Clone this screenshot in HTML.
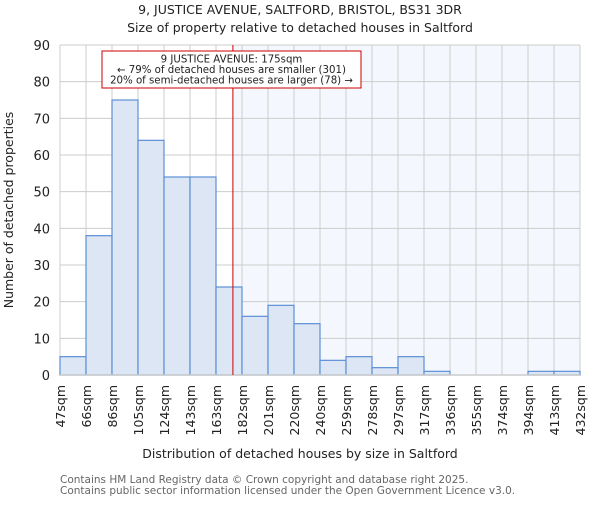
<!DOCTYPE html>
<html><head><meta charset="utf-8"><style>
body{margin:0;background:#fff}
svg{font-family:"DejaVu Sans","Liberation Sans",sans-serif}
</style></head><body>
<svg width="600" height="500" xmlns="http://www.w3.org/2000/svg" id="chart">
<text x="300" y="14" text-anchor="middle" font-size="12.5" fill="#222">9, JUSTICE AVENUE, SALTFORD, BRISTOL, BS31 3DR</text>
<text x="300" y="32" text-anchor="middle" font-size="12.5" fill="#222">Size of property relative to detached houses in Saltford</text>
<g id="plot"></g>
<text x="300" y="458" text-anchor="middle" font-size="12.5" fill="#222">Distribution of detached houses by size in Saltford</text>
<text transform="translate(13,210) rotate(-90)" text-anchor="middle" font-size="12.5" fill="#222">Number of detached properties</text>
<text x="60" y="483" font-size="10.5" fill="#666">Contains HM Land Registry data © Crown copyright and database right 2025.</text>
<text x="60" y="494" font-size="10.5" fill="#666">Contains public sector information licensed under the Open Government Licence v3.0.</text>
</svg>
<script>
const binLabels=["47sqm","66sqm","86sqm","105sqm","124sqm","143sqm","163sqm","182sqm","201sqm","220sqm","240sqm","259sqm","278sqm","297sqm","317sqm","336sqm","355sqm","374sqm","394sqm","413sqm","432sqm"];
const counts=[5,38,75,64,54,54,24,16,19,14,4,5,2,5,1,0,0,0,1,1];
const yTicks=[0,10,20,30,40,50,60,70,80,90];
const propertyBin=6.65;
const NS="http://www.w3.org/2000/svg";
const L=60,R=580,T=45,B=375,yMax=90;
const n=counts.length;
const x=i=>L+(R-L)*i/n;
const y=v=>B-(B-T)*v/yMax;
const g=document.getElementById('plot');
function mk(tag,a){const e=document.createElementNS(NS,tag);for(const k in a)e.setAttribute(k,a[k]);g.appendChild(e);return e;}
const px=x(propertyBin);
let e=mk('rect',{x:px,y:T,width:R-px,height:B-T,fill:'#f4f7fd'});


for(const t of yTicks){
 e=mk('line',{x1:L,x2:R,y1:y(t),y2:y(t),stroke:'#ccc','stroke-width':1});
 
 
 e=mk('text',{x:L-10,y:y(t)+5,'text-anchor':'end','font-size':13,fill:'#222'});
 e.textContent=t;
 
 
}
for(let i=0;i<=n;i++){
 e=mk('line',{x1:x(i),x2:x(i),y1:T,y2:B,stroke:'#ccc','stroke-width':1});
 
 
 e=mk('text',{transform:`translate(${x(i)+5},${B+10}) rotate(-90)`,'text-anchor':'end','font-size':12.5,fill:'#222'});
 e.textContent=binLabels[i];
 
 
}
counts.forEach((c,i)=>{
 e=mk('rect',{x:x(i),y:y(c),width:x(i+1)-x(i),height:B-y(c),fill:'#dce6f4',stroke:'#5b8fd6','stroke-width':1.2});
 
 
});
e=mk('line',{x1:L,x2:R,y1:B,y2:B,stroke:'#ccc','stroke-width':1.5});


e=mk('line',{x1:px,x2:px,y1:T,y2:B,stroke:'#cc0000','stroke-width':1});


e=mk('rect',{x:102,y:51,width:259,height:37,fill:'#fff',stroke:'#cc0000','stroke-width':1});


const ann=["9 JUSTICE AVENUE: 175sqm","← 79% of detached houses are smaller (301)","20% of semi-detached houses are larger (78) →"];
ann.forEach((s,k)=>{
 e=mk('text',{x:231.5,y:62.5+k*10.5,'text-anchor':'middle','font-size':10.2,fill:'#222'});
 e.textContent=s;
 
 
});
</script>
</body></html>
